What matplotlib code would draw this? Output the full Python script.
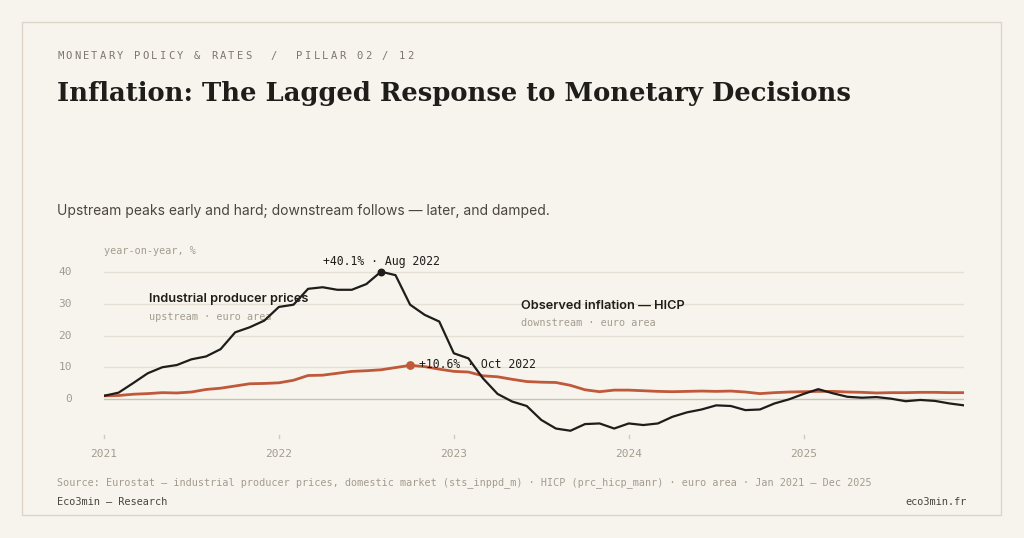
import matplotlib
matplotlib.use("Agg")
import matplotlib.pyplot as plt
from matplotlib.patches import Rectangle

months = list(range(60))
year_labels = ["2021", "2022", "2023", "2024", "2025"]
year_pos = [0, 12, 24, 36, 48]
yticks = [0, 10, 20, 30, 40]

ppi = [1.0, 2.0, 5.0, 8.1, 10.0, 10.7, 12.5, 13.4, 15.7, 21.0, 22.6, 24.7,
       29.0, 29.7, 34.7, 35.2, 34.4, 34.4, 36.2, 40.1, 39.0, 29.7, 26.5, 24.4,
       14.4, 12.8, 6.5, 1.6, -0.8, -2.2, -6.6, -9.3, -10.0, -7.9, -7.7, -9.3,
       -7.7, -8.2, -7.7, -5.6, -4.2, -3.3, -2.0, -2.2, -3.5, -3.3, -1.4, -0.1,
       1.6, 3.1, 1.8, 0.7, 0.4, 0.6, 0.1, -0.7, -0.3, -0.6, -1.4, -2.0]
hicp = [1.0, 1.1, 1.5, 1.7, 2.0, 1.9, 2.2, 3.0, 3.4, 4.1, 4.8, 4.9,
        5.1, 5.9, 7.4, 7.5, 8.1, 8.7, 8.9, 9.2, 9.9, 10.6, 10.2, 9.4,
        8.7, 8.5, 7.3, 7.0, 6.2, 5.5, 5.3, 5.2, 4.3, 2.9, 2.3, 2.8,
        2.8, 2.6, 2.4, 2.3, 2.4, 2.5, 2.4, 2.5, 2.2, 1.7, 2.0, 2.2,
        2.3, 2.4, 2.4, 2.2, 2.1, 1.9, 2.0, 2.0, 2.1, 2.1, 2.0, 2.0]

BG = "#f7f4ee"
INK = "#1f1d1a"
RUST = "#c0583a"
MUTED = "#a39c8e"
MONO = ["DejaVu Sans Mono"]

W, H = 1024, 538
fig = plt.figure(figsize=(W/100, H/100), dpi=100, facecolor=BG)
fig.patches.append(Rectangle((22/W, 1-515/H), 979/W, 493/H, transform=fig.transFigure,
                             fill=False, edgecolor="#ddd6c8", lw=1))

def ft(x, y, s, **kw):
    fig.text(x/W, 1-y/H, s, **kw)

kicker = "MONETARY POLICY & RATES  /  PILLAR 02 / 12"
step = (416 - 57) / len(kicker)
for i, ch in enumerate(kicker):
    ft(57 + i * step, 56, ch, family=MONO, fontsize=7.6, color="#7d776c", va="center")
ft(57, 93, "Inflation: The Lagged Response to Monetary Decisions", family=["DejaVu Serif"],
   fontsize=18.6, weight="bold", color=INK, va="center")
ft(57, 211, "Upstream peaks early and hard; downstream follows — later, and damped.",
   family=["Inter", "DejaVu Sans"], fontsize=10, color="#4a463f", va="center")
ft(57, 483, "Source: Eurostat — industrial producer prices, domestic market (sts_inppd_m) · HICP (prc_hicp_manr) · euro area · Jan 2021 – Dec 2025",
   family=MONO, fontsize=7.3, color=MUTED, va="center")
ft(57, 502, "Eco3min — Research", family=MONO, fontsize=7.4, color="#4a463f", va="center")
ft(967, 502, "eco3min.fr", family=MONO, fontsize=7.4, color="#4a463f", va="center", ha="right")

ylo, yhi = -19, 44
ax_bot = 399 + (-ylo) * 3.175
ax_top = 399 - yhi * 3.175
ax = fig.add_axes([104/W, 1-ax_bot/H, 860/W, (ax_bot-ax_top)/H])
ax.set_facecolor("none")
ax.set_xlim(0, 59)
ax.set_ylim(ylo, yhi)
ax.axis("off")

for t in yticks:
    ax.plot([0, 59], [t, t], color="#c9c2b3" if t == 0 else "#e6e0d4", lw=1, zorder=1)
    ax.text(-2.2, t, str(t), family=MONO, fontsize=8, color=MUTED, ha="right", va="center")
ax.text(0, 46.5, "year-on-year, %", family=MONO, fontsize=7.3, color=MUTED, ha="left",
        va="center", clip_on=False)
for p, lab in zip(year_pos, year_labels):
    ax.plot([p, p], [-12.3, -11.3], color="#d2cbbd", lw=1, clip_on=False)
    ax.text(p, -17.2, lab, family=MONO, fontsize=8, color=MUTED, ha="center", va="center")

ax.plot(months, hicp, color=RUST, lw=2, zorder=3, solid_joinstyle="round")
ax.plot(months, ppi, color=INK, lw=1.6, zorder=4, solid_joinstyle="round")

ip = ppi.index(max(ppi))
ax.scatter([ip], [ppi[ip]], s=22, color=INK, zorder=5)
ax.text(ip, ppi[ip] + 3.3, f"+{ppi[ip]:.1f}% · Aug 2022", family=MONO, fontsize=8.3,
        color=INK, ha="center", va="center")
ih = hicp.index(max(hicp))
ax.scatter([ih], [hicp[ih]], s=28, color=RUST, zorder=5)
ax.text(ih + 0.6, hicp[ih] + 0.4, f"+{hicp[ih]:.1f}% · Oct 2022", family=MONO, fontsize=8.3,
        color=INK, ha="left", va="center", zorder=6)

ax.text(3.1, 31.5, "Industrial producer prices", family=["Inter", "DejaVu Sans"], fontsize=9.2,
        weight="semibold", color=INK, va="center")
ax.text(3.1, 25.8, "upstream · euro area", family=MONO, fontsize=7.3, color=MUTED, va="center")
ax.text(28.6, 29.3, "Observed inflation — HICP", family=["Inter", "DejaVu Sans"], fontsize=9.2,
        weight="semibold", color=INK, va="center")
ax.text(28.6, 23.8, "downstream · euro area", family=MONO, fontsize=7.3, color=MUTED, va="center")

fig.savefig("out.png", dpi=100, facecolor=BG)
